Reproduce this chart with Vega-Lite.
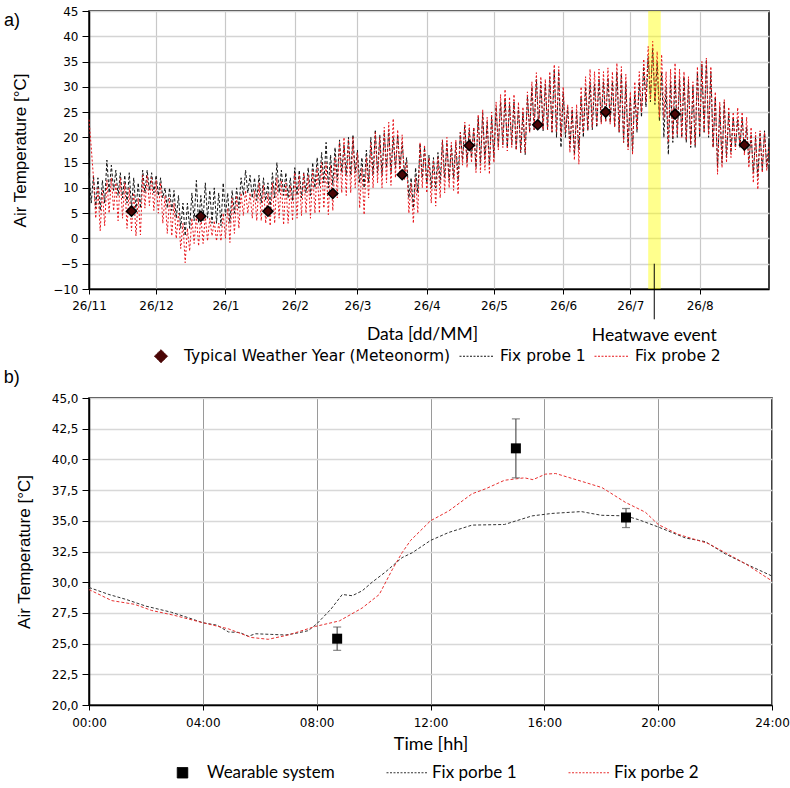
{
"$schema": "https://vega.github.io/schema/vega-lite/v6.json",
"background": "white",
"padding": {"left": 2, "top": 4, "right": 5, "bottom": 5},
"spacing": 1,
"datasets": {
"one": [{}],
"top": [
{"d":0,"a":13,"b":23.5},{"d":1,"a":7,"b":18},{"d":2,"a":12.5,"b":12},{"d":3,"a":6,"b":4},{"d":4,"a":12,"b":10},{"d":5,"a":5.5,"b":1.5},{"d":6,"a":11.5,"b":9.5},{"d":7,"a":7,"b":2.5},{"d":8,"a":15.5,"b":11.5},{"d":9,"a":9,"b":5},
{"d":10,"a":14.5,"b":12},{"d":11,"a":9.5,"b":5.5},{"d":12,"a":13.5,"b":11},{"d":13,"a":8.5,"b":3.5},{"d":14,"a":13,"b":12},{"d":15,"a":8,"b":4},{"d":16,"a":12.5,"b":11},{"d":17,"a":7,"b":2},{"d":18,"a":13,"b":10},{"d":19,"a":6,"b":1.5},
{"d":20,"a":12,"b":9},{"d":21,"a":5.5,"b":0.5},{"d":22,"a":11,"b":8},{"d":23,"a":6,"b":0.7},{"d":24,"a":13.5,"b":12.5},{"d":25,"a":9,"b":6},{"d":26,"a":13.5,"b":12.5},{"d":27,"a":9.5,"b":6.5},{"d":28,"a":13,"b":12},{"d":29,"a":9,"b":5.5},
{"d":30,"a":12.5,"b":11.5},{"d":31,"a":8.5,"b":5},{"d":32,"a":12,"b":11},{"d":33,"a":8,"b":3},{"d":34,"a":10,"b":8.5},{"d":35,"a":6,"b":1},{"d":36,"a":10,"b":8},{"d":37,"a":5.5,"b":0.5},{"d":38,"a":9.5,"b":7},{"d":39,"a":4,"b":0},
{"d":40,"a":8.5,"b":5},{"d":41,"a":2,"b":-2},{"d":42,"a":7,"b":3},{"d":43,"a":0.5,"b":-4.8},{"d":44,"a":7,"b":2},{"d":45,"a":2,"b":-2.5},{"d":46,"a":9,"b":4},{"d":47,"a":3.5,"b":-1},{"d":48,"a":11.5,"b":4.5},{"d":49,"a":3,"b":-1.5},
{"d":50,"a":8.5,"b":4.5},{"d":51,"a":3.5,"b":-1},{"d":52,"a":11,"b":4.5},{"d":53,"a":4,"b":-0.5},{"d":54,"a":9.5,"b":4},{"d":55,"a":3,"b":0.5},{"d":56,"a":10,"b":3.5},{"d":57,"a":3,"b":-0.5},{"d":58,"a":9,"b":3},{"d":59,"a":2.5,"b":-0.5},
{"d":60,"a":11,"b":5},{"d":61,"a":4.5,"b":0},{"d":62,"a":9,"b":6},{"d":63,"a":3,"b":-0.8},{"d":64,"a":9.5,"b":8},{"d":65,"a":5,"b":1},{"d":66,"a":10,"b":8.5},{"d":67,"a":6,"b":2},{"d":68,"a":12,"b":9},{"d":69,"a":8.5,"b":4.5},
{"d":70,"a":13.5,"b":9.5},{"d":71,"a":9,"b":5},{"d":72,"a":12.5,"b":9},{"d":73,"a":8,"b":4},{"d":74,"a":12,"b":9.5},{"d":75,"a":7.5,"b":3.5},{"d":76,"a":12.5,"b":11},{"d":77,"a":7,"b":3.5},{"d":78,"a":12,"b":10.5},{"d":79,"a":7.5,"b":3},
{"d":80,"a":11,"b":9},{"d":81,"a":6,"b":2.5},{"d":82,"a":13,"b":11},{"d":83,"a":8,"b":3},{"d":84,"a":15,"b":12},{"d":85,"a":9,"b":4},{"d":86,"a":13.5,"b":11.5},{"d":87,"a":8.5,"b":2.7},{"d":88,"a":13,"b":11},{"d":89,"a":8,"b":3},
{"d":90,"a":12,"b":10.5},{"d":91,"a":7.5,"b":3.5},{"d":92,"a":14,"b":13},{"d":93,"a":8.5,"b":4},{"d":94,"a":13.5,"b":12.5},{"d":95,"a":8,"b":4.5},{"d":96,"a":13,"b":13},{"d":97,"a":9,"b":5},{"d":98,"a":14,"b":12.5},{"d":99,"a":8.5,"b":4},
{"d":100,"a":15,"b":13.5},{"d":101,"a":10,"b":5},{"d":102,"a":16,"b":14},{"d":103,"a":10.5,"b":5},{"d":104,"a":17,"b":15},{"d":105,"a":11,"b":6},{"d":106,"a":19,"b":15},{"d":107,"a":10,"b":4.7},{"d":108,"a":16.5,"b":14.5},{"d":109,"a":10.5,"b":5.5},
{"d":110,"a":18,"b":16},{"d":111,"a":11.5,"b":8},{"d":112,"a":19.5,"b":19},{"d":113,"a":13,"b":9},{"d":114,"a":18.5,"b":20},{"d":115,"a":12.5,"b":8.5},{"d":116,"a":20,"b":19.5},{"d":117,"a":12.5,"b":9},{"d":118,"a":20.5,"b":20},{"d":119,"a":13,"b":10},
{"d":120,"a":17.5,"b":17},{"d":121,"a":11,"b":6},{"d":122,"a":16,"b":14},{"d":123,"a":10,"b":4.7},{"d":124,"a":17.5,"b":16},{"d":125,"a":11,"b":8},{"d":126,"a":20,"b":19},{"d":127,"a":12.5,"b":10},{"d":128,"a":21.5,"b":21},{"d":129,"a":13,"b":11},
{"d":130,"a":20.5,"b":20},{"d":131,"a":12.5,"b":10},{"d":132,"a":21,"b":22},{"d":133,"a":14,"b":11},{"d":134,"a":21.5,"b":23},{"d":135,"a":13,"b":10.5},{"d":136,"a":20,"b":23.7},{"d":137,"a":14,"b":12},{"d":138,"a":20.5,"b":21.5},{"d":139,"a":14,"b":12},
{"d":140,"a":19,"b":20.5},{"d":141,"a":13,"b":11.5},{"d":142,"a":16,"b":15},{"d":143,"a":8,"b":5},{"d":144,"a":12,"b":11},{"d":145,"a":6,"b":3},{"d":146,"a":14,"b":12},{"d":147,"a":9,"b":5},{"d":148,"a":18.8,"b":19},{"d":149,"a":12,"b":10},
{"d":150,"a":18,"b":18.5},{"d":151,"a":11,"b":9},{"d":152,"a":16.5,"b":16},{"d":153,"a":10,"b":7},{"d":154,"a":16,"b":15.5},{"d":155,"a":10,"b":6.4},{"d":156,"a":17,"b":16},{"d":157,"a":11,"b":8},{"d":158,"a":19.5,"b":19.5},{"d":159,"a":12,"b":9},
{"d":160,"a":19,"b":20},{"d":161,"a":11.5,"b":10},{"d":162,"a":18.5,"b":19},{"d":163,"a":12,"b":9.5},{"d":164,"a":19,"b":19.5},{"d":165,"a":11.5,"b":8.7},{"d":166,"a":21,"b":21},{"d":167,"a":15.5,"b":14.5},{"d":168,"a":22.5,"b":23},{"d":169,"a":15,"b":14},
{"d":170,"a":21.5,"b":22.5},{"d":171,"a":16,"b":15},{"d":172,"a":22,"b":22},{"d":173,"a":14,"b":13},{"d":174,"a":24,"b":24.5},{"d":175,"a":15,"b":13},{"d":176,"a":24.9,"b":25.5},{"d":177,"a":15.5,"b":13.5},{"d":178,"a":23,"b":24},{"d":179,"a":14.5,"b":12.7},
{"d":180,"a":24,"b":25},{"d":181,"a":16,"b":15},{"d":182,"a":26,"b":27},{"d":183,"a":18,"b":17.5},{"d":184,"a":27,"b":28.5},{"d":185,"a":18.5,"b":18},{"d":186,"a":27.8,"b":29.5},{"d":187,"a":18,"b":17.3},{"d":188,"a":26.5,"b":28},{"d":189,"a":18.5,"b":18},
{"d":190,"a":27,"b":28.5},{"d":191,"a":17.5,"b":17.5},{"d":192,"a":26,"b":27},{"d":193,"a":17,"b":17},{"d":194,"a":25,"b":26},{"d":195,"a":16.6,"b":17},{"d":196,"a":28,"b":29},{"d":197,"a":21,"b":21},{"d":198,"a":30,"b":31},{"d":199,"a":21.5,"b":21.5},
{"d":200,"a":31.5,"b":32.8},{"d":201,"a":22,"b":22},{"d":202,"a":31,"b":32},{"d":203,"a":21.3,"b":21.5},{"d":204,"a":30.5,"b":31.5},{"d":205,"a":21.5,"b":21.5},{"d":206,"a":32,"b":33},{"d":207,"a":21,"b":21},{"d":208,"a":33.5,"b":34.4},{"d":209,"a":20,"b":21},
{"d":210,"a":33,"b":34},{"d":211,"a":18,"b":20},{"d":212,"a":29,"b":30},{"d":213,"a":20,"b":21},{"d":214,"a":26,"b":26.5},{"d":215,"a":18,"b":17},{"d":216,"a":25.5,"b":26},{"d":217,"a":16.6,"b":15.5},{"d":218,"a":25,"b":26.5},{"d":219,"a":17.5,"b":14.7},
{"d":220,"a":28,"b":30},{"d":221,"a":20,"b":21},{"d":222,"a":30,"b":32},{"d":223,"a":21.3,"b":21.5},{"d":224,"a":31,"b":33.5},{"d":225,"a":21.5,"b":22},{"d":226,"a":30.5,"b":33},{"d":227,"a":22,"b":22.5},{"d":228,"a":31.5,"b":33.5},{"d":229,"a":23,"b":22.6},
{"d":230,"a":31,"b":33},{"d":231,"a":23.2,"b":23},{"d":232,"a":31.8,"b":33.75},{"d":233,"a":23,"b":22.6},{"d":234,"a":31,"b":33},{"d":235,"a":22,"b":22},{"d":236,"a":33,"b":34.7},{"d":237,"a":21,"b":21},{"d":238,"a":32.5,"b":34},{"d":239,"a":19,"b":19},
{"d":240,"a":31,"b":32.5},{"d":241,"a":18,"b":17.5},{"d":242,"a":28,"b":29},{"d":243,"a":17.3,"b":16.6},{"d":244,"a":29,"b":31},{"d":245,"a":21,"b":21.5},{"d":246,"a":31,"b":33},{"d":247,"a":24,"b":25},{"d":248,"a":34,"b":35.5},{"d":249,"a":26,"b":27},
{"d":250,"a":36,"b":38},{"d":251,"a":27,"b":27.5},{"d":252,"a":37.7,"b":39},{"d":253,"a":26.5,"b":27.2},{"d":254,"a":35,"b":37},{"d":255,"a":23.2,"b":24},{"d":256,"a":33,"b":36.4},{"d":257,"a":20,"b":23.9},{"d":258,"a":30,"b":33},{"d":259,"a":16.6,"b":19},
{"d":260,"a":31,"b":33.5},{"d":261,"a":19,"b":20},{"d":262,"a":32.4,"b":34.7},{"d":263,"a":20,"b":20.5},{"d":264,"a":31.5,"b":33.5},{"d":265,"a":20,"b":20},{"d":266,"a":32,"b":33},{"d":267,"a":19,"b":19.5},{"d":268,"a":31,"b":32},{"d":269,"a":18,"b":18.5},
{"d":270,"a":30,"b":31},{"d":271,"a":18,"b":18.5},{"d":272,"a":33,"b":34},{"d":273,"a":20,"b":20.5},{"d":274,"a":34.5,"b":35},{"d":275,"a":21,"b":21},{"d":276,"a":35.4,"b":35.7},{"d":277,"a":20,"b":20.5},{"d":278,"a":33,"b":34},{"d":279,"a":18,"b":18},
{"d":280,"a":28,"b":29},{"d":281,"a":14,"b":12.7},{"d":282,"a":26,"b":27},{"d":283,"a":15,"b":14},{"d":284,"a":27,"b":27.5},{"d":285,"a":16,"b":15},{"d":286,"a":25,"b":26},{"d":287,"a":17,"b":16},{"d":288,"a":24,"b":25},{"d":289,"a":18,"b":17.5},
{"d":290,"a":23.5,"b":25.9},{"d":291,"a":18,"b":18},{"d":292,"a":23.9,"b":25},{"d":293,"a":17,"b":16.5},{"d":294,"a":22,"b":24},{"d":295,"a":15,"b":14},{"d":296,"a":20.6,"b":22},{"d":297,"a":13,"b":11},{"d":298,"a":20,"b":21},{"d":299,"a":12,"b":9.7},
{"d":300,"a":21,"b":21.3},{"d":301,"a":13.5,"b":13},{"d":302,"a":21.3,"b":21},{"d":303,"a":14,"b":13.4},{"d":304,"a":19,"b":18}
],
"twy": [
{"d":19,"k":"m","v":5.4},{"d":50,"k":"m","v":4.4},{"d":80,"k":"m","v":5.4},{"d":109,"k":"m","v":8.9},{"d":140,"k":"m","v":12.6},
{"d":170,"k":"m","v":18.4},{"d":200.6,"k":"m","v":22.5},{"d":231,"k":"m","v":25.0},{"d":262,"k":"m","v":24.6},{"d":293,"k":"m","v":18.5}
],
"bot": [
{"h":0,"k":"a","v":29.57},{"h":0.7,"k":"a","v":29.0},{"h":1.3,"k":"a","v":28.6},{"h":2.0,"k":"a","v":28.05},{"h":2.9,"k":"a","v":27.55},{"h":3.5,"k":"a","v":27.1},{"h":4.0,"k":"a","v":26.7},{"h":4.5,"k":"a","v":26.5},{"h":4.9,"k":"a","v":25.95},{"h":5.3,"k":"a","v":25.9},{"h":5.6,"k":"a","v":25.6},{"h":5.85,"k":"a","v":25.8},{"h":6.4,"k":"a","v":25.75},{"h":6.9,"k":"a","v":25.7},{"h":7.3,"k":"a","v":25.85},{"h":7.7,"k":"a","v":26.05},{"h":8.0,"k":"a","v":26.6},{"h":8.5,"k":"a","v":27.8},{"h":8.9,"k":"a","v":29.0},{"h":9.25,"k":"a","v":28.9},{"h":9.6,"k":"a","v":29.3},{"h":9.95,"k":"a","v":30.0},{"h":10.4,"k":"a","v":30.8},{"h":10.65,"k":"a","v":31.3},{"h":11.0,"k":"a","v":32.0},{"h":11.36,"k":"a","v":32.4},{"h":12,"k":"a","v":33.4},{"h":12.64,"k":"a","v":34.05},{"h":13.46,"k":"a","v":34.65},{"h":14.6,"k":"a","v":34.7},{"h":15.57,"k":"a","v":35.4},{"h":16.27,"k":"a","v":35.6},{"h":17.3,"k":"a","v":35.75},{"h":18.0,"k":"a","v":35.45},{"h":18.85,"k":"a","v":35.4},{"h":19.3,"k":"a","v":35.1},{"h":20.0,"k":"a","v":34.5},{"h":20.96,"k":"a","v":33.6},{"h":21.66,"k":"a","v":33.3},{"h":22.36,"k":"a","v":32.3},{"h":23.07,"k":"a","v":31.5},{"h":24,"k":"a","v":30.5},
{"h":0,"k":"b","v":29.4},{"h":0.8,"k":"b","v":28.5},{"h":1.6,"k":"b","v":28.2},{"h":2.2,"k":"b","v":27.7},{"h":3.0,"k":"b","v":27.3},{"h":4.0,"k":"b","v":26.7},{"h":4.9,"k":"b","v":26.2},{"h":5.7,"k":"b","v":25.5},{"h":6.3,"k":"b","v":25.35},{"h":7.0,"k":"b","v":25.7},{"h":7.96,"k":"b","v":26.4},{"h":8.8,"k":"b","v":26.85},{"h":9.6,"k":"b","v":27.9},{"h":10.2,"k":"b","v":29.0},{"h":10.65,"k":"b","v":31.0},{"h":11.0,"k":"b","v":32.4},{"h":11.3,"k":"b","v":33.4},{"h":12,"k":"b","v":35.0},{"h":12.64,"k":"b","v":35.8},{"h":13.46,"k":"b","v":37.2},{"h":13.93,"k":"b","v":37.6},{"h":14.6,"k":"b","v":38.3},{"h":15.3,"k":"b","v":38.5},{"h":15.6,"k":"b","v":38.35},{"h":16.04,"k":"b","v":38.8},{"h":16.4,"k":"b","v":38.85},{"h":17.33,"k":"b","v":38.2},{"h":18.03,"k":"b","v":37.7},{"h":18.85,"k":"b","v":36.5},{"h":19.55,"k":"b","v":35.7},{"h":20.0,"k":"b","v":34.7},{"h":20.7,"k":"b","v":33.9},{"h":21.76,"k":"b","v":33.15},{"h":22.36,"k":"b","v":32.4},{"h":23.07,"k":"b","v":31.5},{"h":24,"k":"b","v":30.1}
],
"wear": [
{"h":8.72,"k":"w","v":25.4,"lo":24.45,"hi":26.35},
{"h":15.0,"k":"w","v":40.9,"lo":38.5,"hi":43.3},
{"h":18.87,"k":"w","v":35.27,"lo":34.45,"hi":36.0}
]
},
"resolve": {"scale": {"x": "independent", "y": "independent", "color": "independent", "strokeDash": "independent"}, "legend": {"color": "independent"}},
"vconcat": [
{
"width": 680, "height": 278,
"layer": [
{
"data": {"name": "one"},
"mark": {"type": "rect", "color": "#ffff00", "opacity": 0.35},
"encoding": {"x": {"datum": 250}, "x2": {"datum": 255.6}, "y": {"datum": -10}, "y2": {"datum": 45}}
},
{
"data": {"name": "top"},
"transform": [{"fold": ["a", "b"], "as": ["k", "v"]}],
"mark": {"type": "line", "strokeWidth": 1, "interpolate": "linear"},
"encoding": {
"x": {"field": "d", "type": "quantitative", "scale": {"domain": [0, 304], "nice": false, "zero": false},
"axis": {"values": [0,30,61,92,120,151,181,212,242,273], "tickCount": 40,
"labelExpr": "['26/11','26/12','26/1','26/2','26/3','26/4','26/5','26/6','26/7','26/8'][indexof([0,30,61,92,120,151,181,212,242,273], datum.value)]",
"title": "Data [dd/MM]", "titleFont": "Lato", "titleFontSize": 17.5, "titlePadding": 14, "titleX": 333,
"tickSize": 5, "labelPadding": 6, "labelFlush": false, "labelOverlap": false, "grid": true, "gridColor": "#c8c8c8", "gridWidth": 1.2}},
"y": {"field": "v", "type": "quantitative", "scale": {"domain": [-10, 45], "nice": false, "zero": false},
"axis": {"values": [-10,-5,0,5,10,15,20,25,30,35,40,45], "tickCount": 40, "title": "Air Temperature [°C]", "titleFont": "Liberation Sans", "titleFontSize": 17, "titlePadding": 23,
"tickSize": 7, "labelPadding": 4, "labelFlush": false, "labelOverlap": false, "grid": true, "gridColor": "#d4d4d4", "gridWidth": 1.5}},
"color": {"field": "k", "type": "nominal", "scale": {"domain": ["m", "a", "b"], "range": ["#4a0505", "#111111", "#e8141a"]},
"legend": {"orient": "none", "legendX": 54, "legendY": 327, "direction": "horizontal", "title": null,
"labelExpr": "datum.value == 'm' ? 'Typical Weather Year (Meteonorm)' : datum.value == 'a' ? 'Fix probe 1' : 'Fix probe 2'",
"labelFont": "DejaVu Sans", "labelFontSize": 15.5, "labelColor": "black", "symbolSize": 1225, "labelOffset": 5, "columnPadding": 6,
"encode": {"symbols": {"update": {
"shape": {"signal": "datum.value == 'm' ? 'diamond' : 'stroke'"},
"size": {"signal": "datum.value == 'm' ? 170 : 1225"},
"fill": {"signal": "datum.value == 'm' ? 'black' : 'transparent'"},
"stroke": {"signal": "datum.value == 'b' ? '#ff2020' : 'black'"},
"strokeDash": {"signal": "datum.value == 'm' ? [1, 0] : [2, 1.5]"},
"strokeWidth": {"value": 1}, "opacity": {"value": 1}}}}}},
"strokeDash": {"field": "k", "type": "nominal", "scale": {"domain": ["a", "b"], "range": [[3, 2], [2, 2]]}, "legend": null}
}
},
{
"data": {"name": "twy"},
"mark": {"type": "point", "shape": "diamond", "filled": true, "size": 100, "stroke": "black", "strokeWidth": 1.5, "opacity": 1},
"encoding": {
"x": {"field": "d", "type": "quantitative"},
"y": {"field": "v", "type": "quantitative"},
"color": {"field": "k", "type": "nominal"}
}
},
{
"data": {"name": "one"},
"mark": {"type": "rect", "color": "#ffff00", "opacity": 0.15},
"encoding": {"x": {"datum": 250}, "x2": {"datum": 255.6}, "y": {"datum": -10}, "y2": {"datum": 45}}
},
{
"data": {"name": "one"},
"mark": {"type": "rule", "color": "black", "strokeWidth": 1},
"encoding": {"x": {"datum": 252.7}, "y": {"datum": -5}, "y2": {"datum": -16.0}}
},
{
"data": {"name": "one"},
"mark": {"type": "text", "text": "Heatwave event", "font": "Lato", "fontSize": 17.5, "baseline": "middle", "align": "center", "color": "black"},
"encoding": {"x": {"datum": 252.7}, "y": {"datum": -19.3}}
},
{
"data": {"name": "one"},
"mark": {"type": "text", "text": "a)", "font": "Liberation Sans", "fontSize": 18, "baseline": "middle", "align": "left", "color": "black"},
"encoding": {"x": {"datum": -38}, "y": {"datum": 43}}
}
]
},
{
"width": 683, "height": 307,
"layer": [
{
"data": {"name": "bot"},
"mark": {"type": "line", "strokeWidth": 1},
"encoding": {
"x": {"field": "h", "type": "quantitative", "scale": {"domain": [0, 24], "nice": false, "zero": false},
"axis": {"values": [0,4,8,12,16,20,24], "tickCount": 40, "labelExpr": "(datum.value < 10 ? '0' : '') + datum.value + ':00'",
"title": "Time [hh]", "titleFont": "Lato", "titleFontSize": 18, "titlePadding": 7,
"tickSize": 5, "labelPadding": 7, "labelFlush": false, "labelOverlap": false, "grid": true, "gridColor": "#9a9a9a", "gridWidth": 1}},
"y": {"field": "v", "type": "quantitative", "scale": {"domain": [20, 45], "nice": false, "zero": false},
"axis": {"values": [20,22.5,25,27.5,30,32.5,35,37.5,40,42.5,45], "tickCount": 40, "labelExpr": "replace(format(datum.value, '.1f'), '.', ',')",
"title": "Air Temperature [°C]", "titleFont": "Liberation Sans", "titleFontSize": 17, "titlePadding": 18,
"tickSize": 7, "labelPadding": 4, "labelFlush": false, "labelOverlap": false, "grid": true, "gridColor": "#d8d8d8", "gridWidth": 1.5}},
"color": {"field": "k", "type": "nominal", "scale": {"domain": ["w", "a", "b"], "range": ["#000000", "#333333", "#e83030"]},
"legend": {"orient": "none", "legendX": 72, "legendY": 353, "direction": "horizontal", "title": null,
"labelExpr": "datum.value == 'w' ? 'Wearable system' : datum.value == 'a' ? 'Fix porbe 1' : 'Fix porbe 2'",
"labelFont": "Lato", "labelFontSize": 17, "labelColor": "black", "symbolSize": 1764, "labelOffset": 3, "columnPadding": 49,
"encode": {"symbols": {"update": {
"shape": {"signal": "datum.value == 'w' ? 'square' : 'stroke'"},
"size": {"signal": "datum.value == 'w' ? 110 : 1764"},
"fill": {"signal": "datum.value == 'w' ? 'black' : 'transparent'"},
"stroke": {"signal": "datum.value == 'b' ? '#e83030' : datum.value == 'w' ? 'black' : '#333333'"},
"strokeDash": {"signal": "datum.value == 'w' ? [1, 0] : [2, 1.5]"},
"strokeWidth": {"value": 1}, "opacity": {"value": 1}}}}}},
"strokeDash": {"field": "k", "type": "nominal", "scale": {"domain": ["a", "b"], "range": [[3, 2], [3, 2]]}, "legend": null}
}
},
{
"data": {"name": "wear"},
"mark": {"type": "rule", "color": "#555555", "strokeWidth": 1.2},
"encoding": {"x": {"field": "h", "type": "quantitative"}, "y": {"field": "lo", "type": "quantitative"}, "y2": {"field": "hi"}}
},
{
"data": {"name": "wear"},
"mark": {"type": "tick", "orient": "horizontal", "color": "#555555", "size": 8, "thickness": 1.2},
"encoding": {"x": {"field": "h", "type": "quantitative"}, "y": {"field": "lo", "type": "quantitative"}}
},
{
"data": {"name": "wear"},
"mark": {"type": "tick", "orient": "horizontal", "color": "#555555", "size": 8, "thickness": 1.2},
"encoding": {"x": {"field": "h", "type": "quantitative"}, "y": {"field": "hi", "type": "quantitative"}}
},
{
"data": {"name": "wear"},
"mark": {"type": "point", "shape": "square", "filled": true, "size": 100, "opacity": 1},
"encoding": {
"x": {"field": "h", "type": "quantitative"},
"y": {"field": "v", "type": "quantitative"},
"color": {"field": "k", "type": "nominal"}
}
},
{
"data": {"name": "one"},
"mark": {"type": "text", "text": "b)", "font": "Liberation Sans", "fontSize": 18, "baseline": "middle", "align": "left", "color": "black"},
"encoding": {"x": {"datum": -3.0}, "y": {"datum": 46.65}}
}
]
}
],
"config": {
"view": {"stroke": "black", "strokeWidth": 1.5},
"axis": {"domainColor": "black", "domainWidth": 1.5, "tickColor": "black", "labelColor": "black", "titleColor": "black", "titleFontWeight": "normal", "labelFont": "DejaVu Sans", "labelFontSize": 12},
"legend": {"labelLimit": 400}
}
}
